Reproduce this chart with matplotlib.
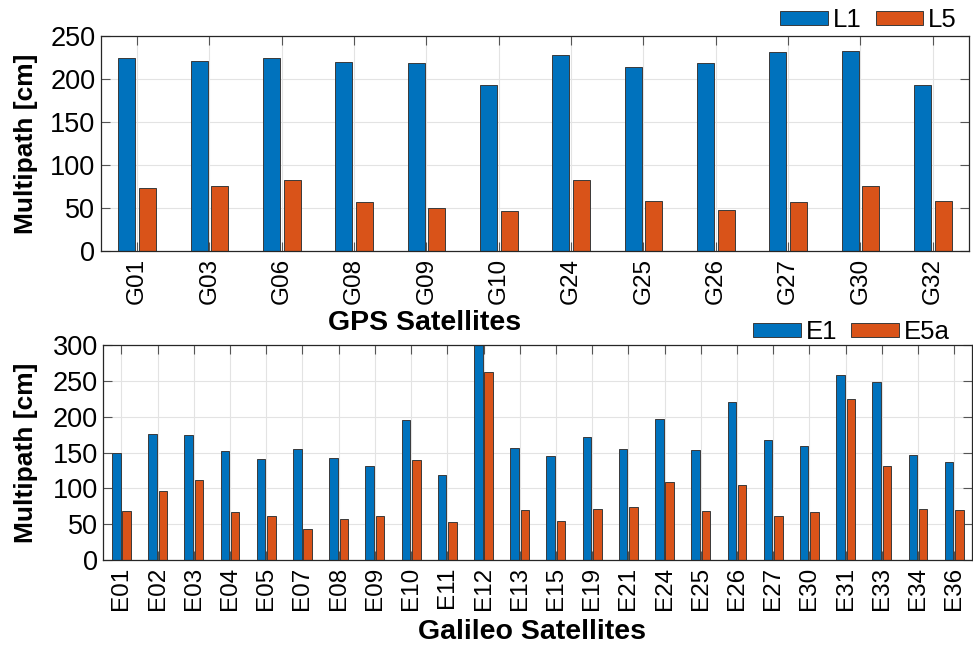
import matplotlib
matplotlib.use("Agg")
import numpy as np
import matplotlib.pyplot as plt

plt.rcParams["font.family"] = ["Liberation Sans", "DejaVu Sans"]

BLUE = "#0072BD"
ORANGE = "#D95319"
EDGE = "#3a3a3a"
GRID = "#e3e3e3"
AXC = "#262626"

# GPS satellites, multipath per frequency [cm]
gps_sats = ["G01", "G03", "G06", "G08", "G09", "G10",
            "G24", "G25", "G26", "G27", "G30", "G32"]
gps_l1 = [224, 221, 224, 220, 219, 193, 228, 214, 219, 231, 232, 193]
gps_l5 = [73, 75, 82, 57, 50, 47, 82, 58, 48, 57, 75, 58]

# Galileo satellites, multipath per frequency [cm]
gal_sats = ["E01", "E02", "E03", "E04", "E05", "E07", "E08", "E09",
            "E10", "E11", "E12", "E13", "E15", "E19", "E21", "E24",
            "E25", "E26", "E27", "E30", "E31", "E33", "E34", "E36"]
gal_e1 = [150, 176, 175, 152, 141, 155, 143, 131, 195, 119, 300, 156,
          145, 172, 155, 197, 154, 220, 167, 159, 258, 249, 147, 137]
gal_e5a = [69, 97, 112, 67, 61, 43, 57, 62, 140, 53, 262, 70,
           54, 71, 74, 109, 69, 104, 61, 67, 224, 131, 71, 70]

OFF = 0.143
W = 0.235


def draw_panel(ax, sats, a, b, names, ymax, xlabel, xlab_x, ylab_x, leg_anchor):
    x = np.arange(1, len(sats) + 1)
    ax.bar(x - OFF, a, W, color=BLUE, edgecolor=EDGE, linewidth=0.7,
           label=names[0], zorder=3)
    ax.bar(x + OFF, b, W, color=ORANGE, edgecolor=EDGE, linewidth=0.7,
           label=names[1], zorder=3)

    ax.set_xlim(0.5, len(sats) + 0.5)
    ax.set_ylim(0, ymax)
    ax.set_yticks(np.arange(0, ymax + 1, 50))
    ax.set_xticks(x)
    ax.set_xticklabels(sats, rotation=90)

    ax.grid(True, color=GRID, linewidth=0.8, zorder=0)
    ax.set_axisbelow(True)
    for s in ax.spines.values():
        s.set_edgecolor(AXC)
        s.set_linewidth(0.9)
        s.set_zorder(5)
    ax.tick_params(direction="in", length=6.5, width=0.8, color="#555555",
                   top=True, right=True, labelcolor="black")
    ax.tick_params(axis="y", labelsize=19.5, pad=4)
    ax.tick_params(axis="x", labelsize=17.5, pad=5)

    ax.set_ylabel("Multipath [cm]", fontsize=19, fontweight="bold")
    ax.yaxis.set_label_coords(ylab_x, 0.5)
    ax.set_xlabel(xlabel, fontsize=20.5, fontweight="bold", va="center")
    ax.xaxis.set_label_coords(xlab_x, -0.337)

    ax.legend(loc="center right", bbox_to_anchor=leg_anchor,
              bbox_transform=ax.figure.transFigure, ncol=2, frameon=False,
              fontsize=18.5, handlelength=1.85, handleheight=0.5,
              handletextpad=0.2, columnspacing=0.55, borderpad=0,
              borderaxespad=0)


fig = plt.figure(figsize=(9.73, 6.46), dpi=100, facecolor="white")
ax1 = fig.add_axes([0.1038, 0.6115, 0.892, 0.3328])
ax2 = fig.add_axes([0.1062, 0.1331, 0.8931, 0.3328])

draw_panel(ax1, gps_sats, gps_l1, gps_l5, ["L1", "L5"], 250,
           "GPS Satellites", 0.373, -0.073, (957 / 973, 1 - 20 / 646))
draw_panel(ax2, gal_sats, gal_e1, gal_e5a, ["E1", "E5a"], 300,
           "Galileo Satellites", 0.493, -0.075, (950 / 973, 1 - 332 / 646))

fig.savefig("out.png", dpi=100)
